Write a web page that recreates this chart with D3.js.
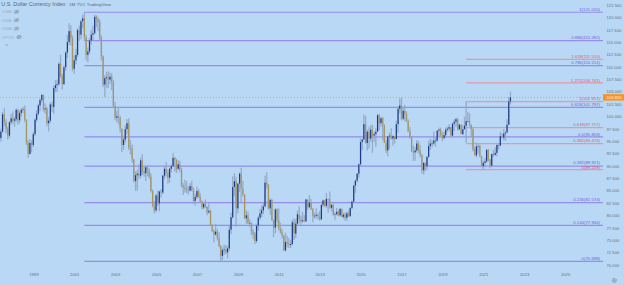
<!DOCTYPE html>
<html>
<head>
<meta charset="utf-8">
<script src="https://cdn.jsdelivr.net/npm/d3@7/dist/d3.min.js"></script>
<style>
html,body{margin:0;padding:0;background:#b9d8f6;overflow:hidden;}
svg{display:block;font-family:"Liberation Sans","DejaVu Sans",Arial,sans-serif;}
</style>
</head>
<body>
<svg id="chart" width="624" height="285"></svg>
<script>
// ---- DATA (monthly DXY, May 1997 - May 2022) ----
const startMonth = "1997-05";
const firstOpen = 99.3;
const closes = [
// 1997 May-Dec
95.6,96.9,100.4,98.8,97.4,96.1,98.8,99.6,
// 1998
99.1,99.4,101.3,99.2,100.7,101.3,101.4,99.3,94.6,92.4,94.6,94.2,
// 1999
96.4,99.3,100.5,102.2,103.3,104.3,101.4,101.6,98.6,99.1,102.4,101.9,
// 2000
105.7,106.3,106.5,110.6,108.1,106.5,109.9,112.9,115.0,117.2,115.8,109.6,
// 2001
111.3,112.4,117.4,116.5,119.2,119.8,116.0,112.4,113.1,115.3,116.5,116.8,
// 2002
120.1,119.6,119.0,115.9,112.1,106.4,107.7,107.9,107.4,108.0,106.9,102.1,
// 2003
99.7,100.0,99.7,97.5,94.2,95.3,97.4,98.6,93.7,93.5,91.3,86.9,
// 2004
88.1,88.4,88.0,91.1,88.9,88.5,89.7,89.0,87.8,84.9,81.9,81.0,
// 2005
84.0,82.4,84.8,84.6,88.0,89.4,88.6,87.6,89.4,89.9,91.6,91.2,
// 2006
89.4,90.3,89.2,86.0,85.6,85.3,85.1,85.0,85.9,85.0,82.9,83.7,
// 2007
84.9,83.7,82.8,81.6,82.3,81.7,80.6,80.9,78.0,76.8,76.1,76.7,
// 2008
75.4,73.8,71.8,73.0,73.1,72.5,73.3,77.1,79.6,85.7,86.9,81.4,
// 2009
86.4,88.4,85.4,84.2,79.4,80.0,78.4,78.4,76.7,76.3,74.8,77.9,
// 2010
79.5,80.4,81.0,81.8,86.6,86.2,81.4,83.1,79.0,77.5,81.2,79.0,
// 2011
77.3,76.6,75.9,72.9,74.6,74.3,74.0,74.2,78.6,76.3,78.3,80.2,
// 2012
79.2,78.8,79.0,78.8,83.2,81.6,82.6,81.2,79.9,79.9,80.1,79.8,
// 2013
79.2,82.1,83.0,81.9,83.3,83.2,81.5,82.1,80.2,80.2,80.7,80.0,
// 2014
81.3,79.7,80.1,79.5,80.4,79.8,81.5,82.8,86.0,87.0,88.4,90.3,
// 2015
94.8,95.3,98.4,94.6,96.9,95.5,97.3,96.1,96.4,96.9,100.2,98.6,
// 2016
99.6,98.2,94.6,93.1,95.9,96.1,95.5,96.0,95.4,98.4,101.5,102.2,
// 2017
99.5,101.1,100.4,99.1,97.0,95.6,92.9,92.7,93.1,94.5,93.1,92.1,
// 2018
89.1,90.6,89.9,91.8,94.0,94.5,94.5,95.1,95.1,97.1,97.3,96.2,
// 2019
95.6,96.2,97.3,97.5,97.8,96.1,98.5,98.9,99.4,97.4,98.3,96.4,
// 2020
97.4,98.1,99.0,99.0,98.3,97.4,93.3,92.1,93.9,94.0,91.9,89.9,
// 2021
90.6,90.9,93.2,91.3,90.0,92.4,92.2,92.6,94.2,94.1,96.0,95.7,
// 2022
96.5,96.7,98.3,103.0,103.82
];
const highs = [
99.4,97.5,100.9,101.7,99.4,97.9,99.0,100.5,
101.0,99.9,101.6,101.5,101.1,101.7,101.9,102.2,99.4,95.2,95.4,95.1,
96.8,99.6,101.2,102.5,103.6,104.6,104.4,102.6,101.9,99.9,102.8,103.0,
106.2,107.3,107.4,110.9,112.4,108.6,110.3,113.1,116.4,118.8,118.4,116.3,
112.3,113.6,117.8,118.3,119.5,120.5,121.02,116.5,113.9,115.8,117.4,118.3,
120.5,120.4,120.1,119.6,116.3,112.3,108.3,109.0,109.1,108.8,108.7,107.3,
102.9,101.1,101.9,100.1,97.5,96.1,98.1,99.4,99.6,95.2,94.3,91.4,
88.9,89.2,90.3,91.6,92.3,89.8,89.9,90.1,89.5,88.5,85.2,82.9,
84.3,85.0,85.0,85.3,88.2,90.0,90.8,89.3,89.6,90.3,92.6,91.8,
91.4,91.1,91.0,89.6,86.5,87.2,86.9,85.9,86.5,87.0,85.6,84.3,
85.8,85.3,84.4,83.0,82.6,83.2,81.8,82.4,81.1,78.2,77.2,78.3,
77.2,76.6,74.0,73.5,74.1,74.0,73.8,77.9,80.5,87.9,88.5,87.8,
86.5,88.7,89.6,87.0,84.2,81.0,80.7,79.2,78.6,77.2,76.6,78.3,
79.9,81.3,82.0,82.7,88.0,88.7,86.3,83.5,83.3,79.1,81.4,81.4,
81.4,78.5,77.3,76.0,76.5,75.9,75.4,75.0,79.1,79.4,79.2,80.9,
81.8,79.9,80.7,80.1,83.3,83.1,84.1,83.3,81.5,80.5,81.4,80.5,
80.9,82.2,83.2,83.1,84.5,83.4,84.8,82.3,82.6,80.6,81.5,81.0,
81.5,81.3,80.5,80.6,80.7,81.0,81.6,82.9,86.1,87.2,88.5,90.5,
95.5,95.4,100.4,100.1,97.3,97.8,98.2,98.3,96.8,97.6,100.5,100.5,
99.9,99.9,98.4,95.3,96.0,96.7,97.6,96.2,96.0,99.1,102.0,103.6,
103.8,101.8,102.3,101.0,99.4,97.8,96.0,94.1,93.8,95.2,95.0,94.2,
92.4,90.7,90.6,91.9,95.0,95.5,95.2,96.9,95.7,97.2,97.7,97.7,
96.9,96.9,97.7,97.9,98.4,97.8,98.7,99.4,99.7,99.7,98.5,98.4,
98.2,99.9,102.99,100.9,100.6,98.3,97.8,93.9,94.7,94.3,94.3,92.0,
91.0,91.6,93.4,93.4,91.4,92.4,93.2,93.7,94.5,94.6,96.9,96.6,
97.4,97.0,99.4,103.9,105.0
];
const lows = [
94.6,94.9,96.7,98.0,96.6,95.3,95.6,98.3,
98.5,97.9,98.9,98.3,98.6,99.9,100.6,98.8,94.2,91.6,92.3,92.7,
93.8,96.0,98.9,100.2,101.0,102.8,101.0,100.5,98.0,96.9,98.7,100.9,
100.5,104.9,104.9,106.2,107.8,105.4,106.3,109.2,111.8,114.4,114.3,109.1,
108.6,110.5,112.0,115.2,115.6,117.8,115.2,111.3,110.9,112.6,114.5,115.3,
116.5,118.0,117.2,115.3,111.3,105.9,103.9,105.8,105.7,106.5,105.3,101.9,
99.2,98.8,98.4,96.7,92.8,93.2,94.7,96.3,93.2,92.3,90.6,86.6,
84.9,85.0,87.3,87.5,88.1,87.8,86.9,87.9,87.4,84.6,81.6,80.4,
80.6,81.9,80.8,83.6,84.3,87.3,87.8,86.4,86.6,88.7,89.8,88.8,
88.5,89.1,88.7,85.6,84.1,84.6,84.5,84.2,84.8,84.8,82.3,82.0,
83.3,83.5,82.5,81.2,81.2,81.5,80.0,80.3,77.9,76.6,74.5,75.9,
74.9,73.5,70.70,71.0,72.0,72.2,71.3,72.8,76.2,79.3,83.8,77.7,
80.4,84.7,82.6,83.8,79.2,78.3,78.2,77.6,76.0,75.2,74.2,74.4,
76.9,79.1,79.6,80.2,81.6,85.4,81.2,80.1,78.9,75.6,76.4,78.4,
76.9,76.3,75.3,72.8,72.7,73.5,73.4,73.4,73.9,75.0,75.4,77.9,
78.4,78.1,78.5,78.6,78.6,81.1,82.0,81.1,78.6,79.3,79.4,79.1,
78.9,79.0,81.6,81.7,81.5,80.5,81.3,80.8,79.9,79.1,80.0,79.8,
79.8,79.6,79.3,78.9,78.9,79.7,79.8,81.2,82.6,84.5,86.6,87.6,
89.9,93.2,95.2,94.5,93.1,93.5,94.8,92.6,94.8,93.8,96.9,97.2,
97.9,95.2,94.6,92.6,91.9,93.4,95.3,94.1,94.5,95.4,96.7,100.6,
99.2,99.2,99.0,98.8,96.8,95.5,92.8,91.0,91.0,92.7,92.5,91.7,
88.4,88.25,88.9,89.2,91.6,93.2,93.7,94.2,93.8,94.8,96.0,95.9,
95.0,95.3,95.7,96.8,97.0,95.8,95.8,97.0,97.9,97.1,97.2,96.4,
96.2,97.3,94.65,98.8,97.9,95.7,92.9,92.1,91.7,92.5,91.7,89.7,
89.2,89.7,90.6,90.9,89.5,89.7,91.8,92.0,91.9,93.3,93.9,95.5,
95.1,95.1,97.0,98.3,102.4
];
const purpleLevels = ["1","0.886","0.786","0.618","0.5","0.382","0.236","0.144","0"];
const purplePrices = [121.020,115.282,110.251,101.797,95.859,89.921,82.574,77.944,70.698];
const purpleStart = "2001-07";
const redLevels = ["1.618","1.272","1","0.618","0.382","0"];
const redPrices = [111.510,106.741,102.957,97.717,94.474,89.209];
const redStart = "2020-03";
const lastPrice = 103.820;
const yTicks = [70,72.5,75,77.5,80,82.5,85,87.5,90,92.5,95,97.5,100,102.5,105,107.5,110,112.5,115,117.5,120,122.5];
const xTickYears = [1999,2001,2003,2005,2007,2009,2011,2013,2015,2017,2019,2021,2023,2025];
const legendParts = ["U.S. Dollar Currency Index","1M","TVC","TradingView"];
const legendItems = ["DMA","DMA","DMA","VPVR"];

// ---- BUILD ----
const parseM = d3.timeParse("%Y-%m");
const t0 = parseM(startMonth);
const bars = closes.map((c,i)=>({
  date: d3.timeMonth.offset(t0,i),
  open: i===0 ? firstOpen : closes[i-1],
  high: highs[i], low: lows[i], close: c
}));

const W=624,H=285, plotR=603, plotB=268;
const x = d3.scaleTime().domain([new Date(1999,0,1), new Date(2025,0,1)]).range([33.3, 565.1]);
const y = d3.scaleLinear().domain([70,122.5]).range([264.8,4.9]);

const svg = d3.select("#chart");
svg.append("rect").attr("width",W).attr("height",H).attr("fill","#b9d8f6");

svg.append("clipPath").attr("id","clip").append("rect").attr("x",0).attr("y",0).attr("width",plotR).attr("height",plotB);
const pg = svg.append("g").attr("clip-path","url(#clip)");
const linesG = pg.append("g");
const labelsG = svg.append("g");

// fib lines + labels
const LBL_FS = 4.3;
const labelSpecs = [];
function fib(levels, prices, start, lineCol, txtCol){
  const xs = x(parseM(start));
  prices.forEach((p,i)=>{
    linesG.append("line").attr("x1",xs).attr("x2",plotR).attr("y1",y(p)).attr("y2",y(p))
      .attr("stroke",lineCol).attr("stroke-width",1.2);
    labelSpecs.push({ty:y(p)-1.2, text:`${levels[i]}(${p.toFixed(3)})`, col:txtCol});
  });
}
fib(purpleLevels,purplePrices,purpleStart,"#968de6","#6f62d8");
fib(redLevels,redPrices,redStart,"#e696a6","#e05470");
// nudge labels that would collide (right-aligned, same column)
labelSpecs.sort((a,b)=>a.ty-b.ty);
const minGap = LBL_FS*1.13;
for(let i=1;i<labelSpecs.length;i++){
  const a=labelSpecs[i-1], b=labelSpecs[i];
  const gap=b.ty-a.ty;
  if(gap<minGap){ const d=(minGap-gap)/2; a.ty-=d; b.ty+=d; }
}
labelSpecs.forEach(s=>{
  labelsG.append("text").attr("x",plotR-3).attr("y",s.ty).attr("text-anchor","end")
    .attr("font-size",LBL_FS).attr("fill",s.col).text(s.text);
});

// current price dotted line
linesG.append("line").attr("x1",0).attr("x2",plotR).attr("y1",y(lastPrice)).attr("y2",y(lastPrice))
  .attr("stroke","#efa040").attr("stroke-width",0.9).attr("stroke-dasharray","1,2");

// candles
const cg = pg.append("g");
cg.selectAll("rect.w").data(bars).join("rect").attr("class","w")
  .attr("x",d=>x(d.date)-0.65).attr("width",1.3)
  .attr("y",d=>y(d.high)).attr("height",d=>Math.max(0.5,y(d.low)-y(d.high)))
  .attr("fill","#8ea4c2").attr("opacity",0.85);
cg.selectAll("rect.b").data(bars).join("rect").attr("class","b")
  .attr("x",d=>x(d.date)-0.6).attr("width",1.2)
  .attr("y",d=>y(Math.max(d.open,d.close)))
  .attr("height",d=>Math.max(0.6,Math.abs(y(d.open)-y(d.close))))
  .attr("fill",d=>d.close>=d.open?"#1f3b86":"#a8955f");

// right axis
const AX_FS = 4.2;
const ya = svg.append("g").attr("transform",`translate(${plotR},0)`)
  .call(d3.axisRight(y).tickValues(yTicks).tickSize(0).tickPadding(3.5).tickFormat(d3.format(".3f")));
ya.select(".domain").remove();
ya.selectAll("text").attr("font-size",AX_FS).attr("fill","#6a727c").attr("font-family","Liberation Sans, Arial, sans-serif");

// price label
const pl = svg.append("g");
pl.append("rect").attr("x",plotR).attr("y",y(lastPrice)-3.2).attr("width",W-plotR).attr("height",6.4).attr("fill","#f7931e");
pl.append("text").attr("x",plotR+3.5).attr("y",y(lastPrice)+1.5).attr("font-size",AX_FS).attr("fill","#fff4e4").text(lastPrice.toFixed(3));

// bottom axis
const xa = svg.append("g").attr("transform",`translate(0,${plotB})`)
  .call(d3.axisBottom(x).tickValues(xTickYears.map(yv=>new Date(yv,0,1))).tickSize(0).tickPadding(5.5).tickFormat(d3.timeFormat("%Y")));
xa.select(".domain").remove();
xa.selectAll("text").attr("font-size",AX_FS).attr("fill","#6a727c");

// gear icon
const gear = svg.append("g").attr("transform","translate(614.3,280.5)");
gear.append("circle").attr("r",2.1).attr("fill","none").attr("stroke","#6a717a").attr("stroke-width",0.8).attr("stroke-dasharray","0.9,0.6");
gear.append("circle").attr("r",0.8).attr("fill","none").attr("stroke","#6a717a").attr("stroke-width",0.6);

// legend
const lg = svg.append("g");
const lt = lg.append("text").attr("y",6.2).attr("fill","#5d6570");
const partX = [1.3,69,76.7,86.7];
const partFS = [5.4,4.4,4.4,4.4];
legendParts.forEach((s,i)=>{ lt.append("tspan").attr("x",partX[i]).attr("font-size",partFS[i]).text(s); });
legendItems.forEach((s,i)=>{
  const yy = 11.8 + i*8.4;
  lg.append("text").attr("x",2).attr("y",yy+1.6).attr("font-size",4.4).attr("fill","#a3afbd").text(s);
  const ex = (s==="VPVR"?19:16.5);
  lg.append("ellipse").attr("cx",ex).attr("cy",yy).attr("rx",2.3).attr("ry",1.4).attr("fill","none").attr("stroke","#7f8994").attr("stroke-width",0.6);
  lg.append("circle").attr("cx",ex).attr("cy",yy).attr("r",0.7).attr("fill","#7f8994");
  lg.append("line").attr("x1",ex-2).attr("y1",yy+1.7).attr("x2",ex+2).attr("y2",yy-1.7).attr("stroke","#7f8994").attr("stroke-width",0.6);
});
lg.append("text").attr("x",5.5).attr("y",47.5).attr("font-size",5).attr("fill","#7f8994").text("^");
</script>
</body>
</html>
